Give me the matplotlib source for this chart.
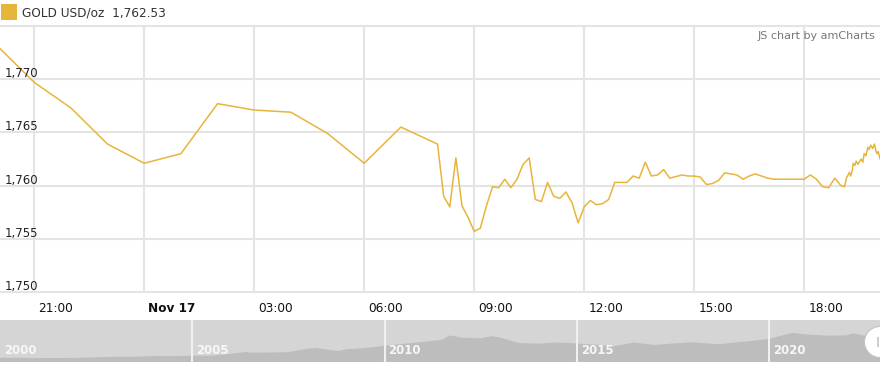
import matplotlib
matplotlib.use("Agg")
import matplotlib.pyplot as plt
import matplotlib.transforms as mtransforms
from matplotlib.patches import Rectangle, Ellipse
import pandas as pd

# ---------------- data ----------------
series_name = "GOLD USD/oz"
last_price = "1,762.53"

times = [
    "2022-11-16 20:00", "2022-11-16 21:00", "2022-11-16 22:00", "2022-11-16 23:00",
    "2022-11-17 00:00", "2022-11-17 01:00", "2022-11-17 02:00", "2022-11-17 03:00",
    "2022-11-17 04:00", "2022-11-17 05:00", "2022-11-17 06:00", "2022-11-17 07:00",
    "2022-11-17 08:00", "2022-11-17 08:10", "2022-11-17 08:20", "2022-11-17 08:30",
    "2022-11-17 08:40", "2022-11-17 08:50", "2022-11-17 09:00", "2022-11-17 09:10",
    "2022-11-17 09:20", "2022-11-17 09:30", "2022-11-17 09:40", "2022-11-17 09:50",
    "2022-11-17 10:00", "2022-11-17 10:10", "2022-11-17 10:20", "2022-11-17 10:30",
    "2022-11-17 10:40", "2022-11-17 10:50", "2022-11-17 11:00", "2022-11-17 11:10",
    "2022-11-17 11:20", "2022-11-17 11:30", "2022-11-17 11:40", "2022-11-17 11:50",
    "2022-11-17 12:00", "2022-11-17 12:10", "2022-11-17 12:20", "2022-11-17 12:30",
    "2022-11-17 12:40", "2022-11-17 12:50", "2022-11-17 13:00", "2022-11-17 13:10",
    "2022-11-17 13:20", "2022-11-17 13:30", "2022-11-17 13:40", "2022-11-17 13:50",
    "2022-11-17 14:00", "2022-11-17 14:10", "2022-11-17 14:20", "2022-11-17 14:30",
    "2022-11-17 14:40", "2022-11-17 14:50", "2022-11-17 15:00", "2022-11-17 15:10",
    "2022-11-17 15:20", "2022-11-17 15:30", "2022-11-17 15:40", "2022-11-17 15:50",
    "2022-11-17 16:00", "2022-11-17 16:10", "2022-11-17 16:20", "2022-11-17 16:30",
    "2022-11-17 16:40", "2022-11-17 16:50", "2022-11-17 17:00", "2022-11-17 17:10",
    "2022-11-17 18:00", "2022-11-17 18:10", "2022-11-17 18:20", "2022-11-17 18:30",
    "2022-11-17 18:40", "2022-11-17 18:50", "2022-11-17 19:00", "2022-11-17 19:06",
    "2022-11-17 19:09", "2022-11-17 19:11", "2022-11-17 19:14", "2022-11-17 19:16",
    "2022-11-17 19:19", "2022-11-17 19:20", "2022-11-17 19:23", "2022-11-17 19:25",
    "2022-11-17 19:28", "2022-11-17 19:33", "2022-11-17 19:36", "2022-11-17 19:38",
    "2022-11-17 19:41", "2022-11-17 19:44", "2022-11-17 19:46", "2022-11-17 19:49",
    "2022-11-17 19:52", "2022-11-17 19:55", "2022-11-17 19:57", "2022-11-17 19:59",
    "2022-11-17 20:01", "2022-11-17 20:04",
]
prices = [
    1773.1, 1769.7, 1767.3, 1763.9,
    1762.1, 1763.0, 1767.7, 1767.1,
    1766.9, 1764.9, 1762.1, 1765.5,
    1763.9, 1759.0, 1758.0, 1762.6,
    1758.1, 1757.0, 1755.7, 1756.0,
    1758.1, 1759.9, 1759.8, 1760.6,
    1759.8, 1760.6, 1762.0, 1762.6,
    1758.7, 1758.5, 1760.3, 1759.0,
    1758.8, 1759.4, 1758.4, 1756.5,
    1758.0, 1758.6, 1758.2, 1758.3,
    1758.7, 1760.3, 1760.3, 1760.3,
    1760.9, 1760.7, 1762.2, 1760.9,
    1761.0, 1761.5, 1760.7, 1760.85,
    1761.0, 1760.9, 1760.9, 1760.8,
    1760.1, 1760.2, 1760.5, 1761.2,
    1761.1, 1761.0, 1760.6, 1760.9,
    1761.1, 1760.9, 1760.7, 1760.6,
    1760.6, 1761.0, 1760.6, 1759.9,
    1759.8, 1760.7, 1760.0, 1759.9,
    1760.7, 1760.9, 1761.25, 1760.9,
    1761.5, 1762.1, 1761.9, 1762.3,
    1762.0, 1762.5, 1762.2, 1763.0,
    1762.8, 1763.6, 1763.4, 1763.8,
    1763.5, 1763.9, 1763.3, 1763.0,
    1763.2, 1762.53,
]

y_ticks = [1750, 1755, 1760, 1765, 1770, 1775]
y_labels = ["1,750", "1,755", "1,760", "1,765", "1,770", ""]

x_tick_times = ["2022-11-16 21:00", "2022-11-17 00:00", "2022-11-17 03:00",
                "2022-11-17 06:00", "2022-11-17 09:00", "2022-11-17 12:00",
                "2022-11-17 15:00", "2022-11-17 18:00"]
x_tick_labels = ["21:00", "Nov 17", "03:00", "06:00", "09:00", "12:00", "15:00", "18:00"]

# navigator (long-term history)
nav_years = [2000.0, 2000.5, 2001.0, 2001.5, 2002.0, 2002.5, 2003.0, 2003.5,
             2004.0, 2004.5, 2005.0, 2005.5, 2006.0, 2006.4, 2006.5, 2007.0,
             2007.5, 2008.0, 2008.2, 2008.8, 2009.0, 2009.5, 2010.0, 2010.5,
             2011.0, 2011.5, 2011.7, 2012.0, 2012.5, 2012.8, 2013.0, 2013.5,
             2014.0, 2014.5, 2015.0, 2015.5, 2015.95, 2016.5, 2017.0, 2017.5,
             2018.0, 2018.7, 2019.0, 2019.5, 2020.0, 2020.6, 2021.0, 2021.5,
             2022.0, 2022.2, 2022.7, 2022.89]
nav_prices = [285, 285, 265, 268, 280, 315, 355, 350,
              410, 395, 425, 430, 550, 680, 630, 640,
              665, 900, 950, 740, 860, 940, 1100, 1230,
              1360, 1500, 1800, 1650, 1600, 1750, 1660, 1280,
              1240, 1320, 1250, 1170, 1060, 1320, 1150, 1250,
              1330, 1200, 1290, 1410, 1560, 1970, 1860, 1780,
              1800, 1930, 1660, 1762]
nav_year_marks = [2000, 2005, 2010, 2015, 2020]

# ---------------- style ----------------
W, H = 880, 368
GOLD = "#e8b53b"
GRID = "#e4e4e4"

fig = plt.figure(figsize=(W / 100, H / 100), dpi=100)
fig.patch.set_facecolor("white")

def fx(px):
    return px / W

def fy(py):
    return 1 - py / H

ax_top, ax_bot = 26, 292
ax = fig.add_axes([0, fy(ax_bot), 1, (ax_bot - ax_top) / H])
ax.set_facecolor("white")
for s in ax.spines.values():
    s.set_visible(False)

t = pd.to_datetime(pd.Series(times))
tick_t = pd.to_datetime(pd.Series(x_tick_times))
end = t.iloc[-1]
start = end - pd.Timedelta(hours=24)

ax.plot(t, prices, color=GOLD, lw=1.1, zorder=3)
ax.set_xlim(start, end)
ax.set_ylim(y_ticks[0], y_ticks[-1])
ax.set_xticks([])
ax.set_yticks([])

for yv in y_ticks:
    ax.axhline(yv, color=GRID, lw=1.5, zorder=1, clip_on=False)
for tv in tick_t:
    ax.axvline(tv, color=GRID, lw=1.5, zorder=1)

# y labels inside the plot
ytrans = mtransforms.blended_transform_factory(ax.transAxes, ax.transData)
ytrans = mtransforms.offset_copy(ytrans, fig=fig, x=5, y=2, units="dots")
for yv, lab in zip(y_ticks, y_labels):
    if lab:
        ax.text(0, yv, lab, transform=ytrans, ha="left", va="baseline",
                fontsize=8.5, color="#222222", zorder=4)

# x labels below
xtrans = mtransforms.blended_transform_factory(ax.transData, fig.transFigure)
xtrans = mtransforms.offset_copy(xtrans, fig=fig, x=4, y=0, units="dots")
for tv, lab in zip(tick_t, x_tick_labels):
    ax.text(tv, fy(308), lab, transform=xtrans, ha="left", va="center",
            fontsize=8.7, color="#111111",
            fontweight="bold" if lab.startswith("Nov") else "normal")

# legend
fig.patches.append(Rectangle((fx(1), fy(20)), fx(16), 16 / H, transform=fig.transFigure,
                             facecolor=GOLD, edgecolor="none"))
fig.text(fx(22), fy(13), f"{series_name}  {last_price}", ha="left", va="center",
         fontsize=8.7, color="#333333")
fig.text(fx(875), fy(36), "JS chart by amCharts", ha="right", va="center",
         fontsize=8, color="#777777")

# navigator
nav_top, nav_bot = 320, 362
nax = fig.add_axes([0, fy(nav_bot), 1, (nav_bot - nav_top) / H])
nax.set_facecolor("#d5d5d5")
for s in nax.spines.values():
    s.set_visible(False)
nax.fill_between(nav_years, nav_prices, 0, color="#bdbdbd", lw=0)
nax.set_xlim(2000, 2000 + W / 38.45)
nax.set_ylim(0, 2840)
nax.set_xticks([])
nax.set_yticks([])
for yr in nav_year_marks:
    if yr > 2000:
        nax.axvline(yr, color="#f0f0f0", lw=1.5)
    nax.text(yr, 0, str(yr), transform=mtransforms.offset_copy(
        nax.transData, fig=fig, x=4, y=5, units="dots"),
        ha="left", va="bottom", fontsize=8.5, fontweight="bold", color="#f7f7f7")

# round grip handle at right end
fig.patches.append(Ellipse((fx(880), fy(342)), 31 / W, 31 / H,
                           transform=fig.transFigure, facecolor="white",
                           edgecolor="#c4c4c4", lw=0.8, zorder=5))
fig.patches.append(Rectangle((fx(877), fy(347)), fx(2), 10 / H,
                             transform=fig.transFigure, facecolor="#cfcfcf",
                             edgecolor="none", zorder=6))

fig.savefig("out.png", dpi=100, facecolor="white")
